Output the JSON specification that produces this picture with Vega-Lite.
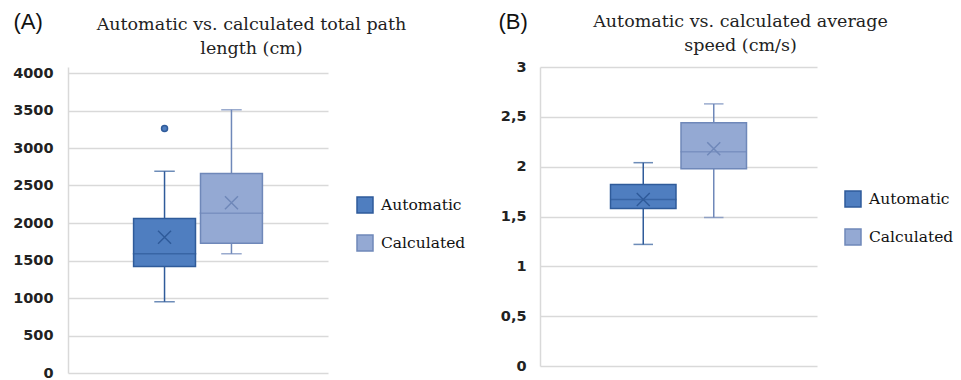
{
  "$schema": "https://vega.github.io/schema/vega-lite/v6.json",
  "autosize": {"type": "pad"},
  "padding": {"left": 12, "top": 10, "right": 5, "bottom": 8},
  "bounds": "flush",
  "spacing": 212,
  "background": "white",
  "config": {"view": {"stroke": null}},
  "resolve": {"scale": {"fill": "independent", "stroke": "independent"}, "legend": {"fill": "independent", "stroke": "independent"}},
  "datasets": {
    "pathStats": [
      {"group": "Automatic", "min": 950, "q1": 1420, "median": 1590, "q3": 2060, "max": 2690, "mean": 1810},
      {"group": "Calculated", "min": 1590, "q1": 1730, "median": 2130, "q3": 2660, "max": 3510, "mean": 2270}
    ],
    "pathOutliers": [
      {"group": "Automatic", "value": 3260}
    ],
    "speedStats": [
      {"group": "Automatic", "min": 1.22, "q1": 1.58, "median": 1.67, "q3": 1.82, "max": 2.04, "mean": 1.67},
      {"group": "Calculated", "min": 1.49, "q1": 1.98, "median": 2.15, "q3": 2.44, "max": 2.63, "mean": 2.18}
    ]
  },
  "hconcat": [
    {
      "width": 260,
      "height": 306,
      "data": {"name": "pathStats"},
      "encoding": {
        "x": {
          "field": "group", "type": "nominal",
          "scale": {"domain": ["Automatic", "Calculated"], "paddingInner": 0.075, "paddingOuter": 0.98},
          "axis": {
            "orient": "top", "labels": false, "ticks": false, "domain": false, "grid": false,
            "title": ["Automatic vs. calculated total path", "length (cm)"],
            "titleX": 183, "titleY": -38, "titleAlign": "center", "titleBaseline": "alphabetic",
            "titleLineHeight": 24, "titleFont": "DejaVu Serif", "titleFontSize": 17.5,
            "titleFontWeight": "normal", "titleColor": "#222222"
          }
        }
      },
      "layer": [
        {
          "mark": {"type": "rule", "strokeWidth": 1.5},
          "encoding": {
            "y": {
              "field": "min", "type": "quantitative",
              "scale": {"domain": [0, 4080], "nice": false, "zero": true},
              "axis": {
                "values": [0, 500, 1000, 1500, 2000, 2500, 3000, 3500, 4000],
                "tickCount": 9,
                "labelExpr": "format(datum.value, 'd')", "labelOverlap": false,
                "grid": true, "gridColor": "#d9d9d9", "gridWidth": 1.5,
                "domain": true, "domainColor": "#d9d9d9", "domainWidth": 1.5,
                "ticks": false, "labelPadding": 15,
                "labelFont": "DejaVu Sans", "labelFontWeight": "bold", "labelFontSize": 14.5, "labelColor": "#222222",
                "title": "(A)", "titleAngle": 0, "titleX": -55, "titleY": -39,
                "titleAlign": "left", "titleBaseline": "alphabetic",
                "titleFont": "Liberation Sans", "titleFontSize": 22, "titleFontWeight": "normal", "titleColor": "#111111"
              }
            },
            "y2": {"field": "max"},
            "stroke": {
              "field": "group", "type": "nominal",
              "scale": {"domain": ["Automatic", "Calculated"], "range": ["#2f5b9a", "#6f88b9"]}
            }
          }
        },
        {
          "mark": {"type": "tick", "filled": false, "thickness": 0.01, "strokeWidth": 1.5, "size": 19},
          "encoding": {
            "y": {"field": "min", "type": "quantitative"},
            "stroke": {"field": "group", "type": "nominal"}
          }
        },
        {
          "mark": {"type": "tick", "filled": false, "thickness": 0.01, "strokeWidth": 1.5, "size": 19},
          "encoding": {
            "y": {"field": "max", "type": "quantitative"},
            "stroke": {"field": "group", "type": "nominal"}
          }
        },
        {
          "mark": {"type": "bar", "strokeWidth": 1.5},
          "encoding": {
            "y": {"field": "q1", "type": "quantitative"},
            "y2": {"field": "q3"},
            "fill": {
              "field": "group", "type": "nominal",
              "scale": {"domain": ["Automatic", "Calculated"], "range": ["#4f7ec0", "#94a9d3"]},
              "legend": {
                "title": null, "orient": "none", "legendX": 288, "legendY": 129,
                "symbolType": "square", "symbolSize": 256, "symbolStrokeWidth": 1.5, "symbolOpacity": 1,
                "labelFont": "DejaVu Serif", "labelFontSize": 15.5, "labelColor": "#111111",
                "labelOffset": 7, "rowPadding": 16,
                "encode": {"symbols": {"update": {"opacity": {"value": 1}, "fillOpacity": {"value": 1}, "strokeOpacity": {"value": 1}}}}
              }
            },
            "stroke": {
              "field": "group", "type": "nominal",
              "legend": {
                "title": null, "orient": "none", "legendX": 288, "legendY": 129,
                "symbolType": "square", "symbolSize": 256, "symbolStrokeWidth": 1.5, "symbolOpacity": 1,
                "labelFont": "DejaVu Serif", "labelFontSize": 15.5, "labelColor": "#111111",
                "labelOffset": 7, "rowPadding": 16,
                "encode": {"symbols": {"update": {"opacity": {"value": 1}, "fillOpacity": {"value": 1}, "strokeOpacity": {"value": 1}}}}
              }
            }
          }
        },
        {
          "mark": {"type": "tick", "filled": false, "thickness": 0.01, "strokeWidth": 1.5, "size": 62},
          "encoding": {
            "y": {"field": "median", "type": "quantitative"},
            "stroke": {"field": "group", "type": "nominal"}
          }
        },
        {
          "mark": {"type": "point", "shape": "M-1,-1L1,1M1,-1L-1,1", "filled": false, "size": 169, "strokeWidth": 1.5, "opacity": 1},
          "encoding": {
            "y": {"field": "mean", "type": "quantitative"},
            "stroke": {"field": "group", "type": "nominal"}
          }
        },
        {
          "data": {"name": "pathOutliers"},
          "mark": {"type": "point", "shape": "circle", "filled": true, "size": 36, "strokeWidth": 1.5, "opacity": 1},
          "encoding": {
            "y": {"field": "value", "type": "quantitative"},
            "fill": {"field": "group", "type": "nominal"},
            "stroke": {"field": "group", "type": "nominal"}
          }
        }
      ]
    },
    {
      "width": 277,
      "height": 299,
      "data": {"name": "speedStats"},
      "encoding": {
        "x": {
          "field": "group", "type": "nominal",
          "scale": {"domain": ["Automatic", "Calculated"], "paddingInner": 0.071, "paddingOuter": 1.01},
          "axis": {
            "orient": "top", "labels": false, "ticks": false, "domain": false, "grid": false,
            "title": ["Automatic vs. calculated average", "speed (cm/s)"],
            "titleX": 200, "titleY": -41, "titleAlign": "center", "titleBaseline": "alphabetic",
            "titleLineHeight": 24, "titleFont": "DejaVu Serif", "titleFontSize": 17.5,
            "titleFontWeight": "normal", "titleColor": "#222222"
          }
        }
      },
      "layer": [
        {
          "mark": {"type": "rule", "strokeWidth": 1.5},
          "encoding": {
            "y": {
              "field": "min", "type": "quantitative",
              "scale": {"domain": [0, 3], "nice": false},
              "axis": {
                "values": [0, 0.5, 1, 1.5, 2, 2.5, 3],
                "labelExpr": "replace(format(datum.value, '~g'), '.', ',')", "labelOverlap": false,
                "grid": true, "gridColor": "#d9d9d9", "gridWidth": 1.5,
                "domain": true, "domainColor": "#d9d9d9", "domainWidth": 1.5,
                "ticks": false, "labelPadding": 14,
                "labelFont": "DejaVu Sans", "labelFontWeight": "bold", "labelFontSize": 14.5, "labelColor": "#222222",
                "title": "(B)", "titleAngle": 0, "titleX": -42, "titleY": -39,
                "titleAlign": "left", "titleBaseline": "alphabetic",
                "titleFont": "Liberation Sans", "titleFontSize": 22, "titleFontWeight": "normal", "titleColor": "#111111"
              }
            },
            "y2": {"field": "max"},
            "stroke": {
              "field": "group", "type": "nominal",
              "scale": {"domain": ["Automatic", "Calculated"], "range": ["#2f5b9a", "#6f88b9"]}
            }
          }
        },
        {
          "mark": {"type": "tick", "filled": false, "thickness": 0.01, "strokeWidth": 1.5, "size": 18},
          "encoding": {
            "y": {"field": "min", "type": "quantitative"},
            "stroke": {"field": "group", "type": "nominal"}
          }
        },
        {
          "mark": {"type": "tick", "filled": false, "thickness": 0.01, "strokeWidth": 1.5, "size": 18},
          "encoding": {
            "y": {"field": "max", "type": "quantitative"},
            "stroke": {"field": "group", "type": "nominal"}
          }
        },
        {
          "mark": {"type": "bar", "strokeWidth": 1.5},
          "encoding": {
            "y": {"field": "q1", "type": "quantitative"},
            "y2": {"field": "q3"},
            "fill": {
              "field": "group", "type": "nominal",
              "scale": {"domain": ["Automatic", "Calculated"], "range": ["#4f7ec0", "#94a9d3"]},
              "legend": {
                "title": null, "orient": "none", "legendX": 304, "legendY": 123,
                "symbolType": "square", "symbolSize": 256, "symbolStrokeWidth": 1.5, "symbolOpacity": 1,
                "labelFont": "DejaVu Serif", "labelFontSize": 15.5, "labelColor": "#111111",
                "labelOffset": 7, "rowPadding": 16,
                "encode": {"symbols": {"update": {"opacity": {"value": 1}, "fillOpacity": {"value": 1}, "strokeOpacity": {"value": 1}}}}
              }
            },
            "stroke": {
              "field": "group", "type": "nominal",
              "legend": {
                "title": null, "orient": "none", "legendX": 304, "legendY": 123,
                "symbolType": "square", "symbolSize": 256, "symbolStrokeWidth": 1.5, "symbolOpacity": 1,
                "labelFont": "DejaVu Serif", "labelFontSize": 15.5, "labelColor": "#111111",
                "labelOffset": 7, "rowPadding": 16,
                "encode": {"symbols": {"update": {"opacity": {"value": 1}, "fillOpacity": {"value": 1}, "strokeOpacity": {"value": 1}}}}
              }
            }
          }
        },
        {
          "mark": {"type": "tick", "filled": false, "thickness": 0.01, "strokeWidth": 1.5, "size": 65},
          "encoding": {
            "y": {"field": "median", "type": "quantitative"},
            "stroke": {"field": "group", "type": "nominal"}
          }
        },
        {
          "mark": {"type": "point", "shape": "M-1,-1L1,1M1,-1L-1,1", "filled": false, "size": 169, "strokeWidth": 1.5, "opacity": 1},
          "encoding": {
            "y": {"field": "mean", "type": "quantitative"},
            "stroke": {"field": "group", "type": "nominal"}
          }
        }
      ]
    }
  ]
}
